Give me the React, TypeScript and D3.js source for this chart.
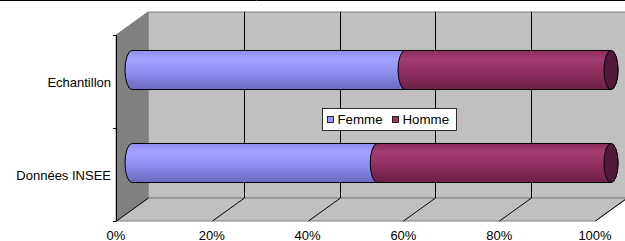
import React, { useEffect, useRef } from "react";
import * as d3 from "d3";

const categories = ["Echantillon", "Données INSEE"];
const femme = [0.57, 0.512];
const homme = [0.43, 0.488];
const seriesNames = ["Femme", "Homme"];
const xTicks = [0, 0.2, 0.4, 0.6, 0.8, 1];

const App = () => {
  const svgRef = useRef<SVGSVGElement>(null);

  useEffect(() => {
    document.body.style.margin = "0";
    const width = 625, height = 241;
    const left = 116, right = 595, top = 35, bottom = 221;
    const dx = 32, dy = -23;

    const svg = d3.select(svgRef.current)
      .attr("width", width)
      .attr("height", height)
      .style("display", "block")
      .style("background", "#fff")
      .style("font-family", "Arial, 'Liberation Sans', sans-serif");
    svg.selectAll("*").remove();

    const x = d3.scaleLinear().domain([0, 1]).range([left, right]);
    const y = d3.scaleBand().domain(categories).range([top, bottom]).paddingInner(0).paddingOuter(0);

    const defs = svg.append("defs");
    const grad = (id, stops) => {
      const g = defs.append("linearGradient").attr("id", id)
        .attr("x1", 0).attr("y1", 0).attr("x2", 0).attr("y2", 1);
      stops.forEach(([o, c]) => g.append("stop").attr("offset", o).attr("stop-color", c));
    };
    grad("gFemme", [["0%", "#8e8eee"], ["22%", "#a2a2ff"], ["55%", "#8f8ff2"], ["100%", "#6a6ac0"]]);
    grad("gHomme", [["0%", "#8a2c5a"], ["22%", "#a43c70"], ["55%", "#8f3060"], ["100%", "#6c1f46"]]);

    // top border line
    svg.append("line").attr("x1", 0).attr("x2", width).attr("y1", 0.5).attr("y2", 0.5)
      .attr("stroke", "#000");

    // back wall
    svg.append("path")
      .attr("d", `M${left + dx},${top + dy}H${width + 5}V${bottom + dy}H${left + dx}Z`)
      .attr("fill", "#c0c0c0").attr("stroke", "#808080");
    // floor
    svg.append("path")
      .attr("d", `M${left},${bottom}L${left + dx},${bottom + dy}H${right + dx}L${right},${bottom}Z`)
      .attr("fill", "#c0c0c0").attr("stroke", "#808080");
    // left wall
    svg.append("path")
      .attr("d", `M${left},${top}L${left + dx},${top + dy}V${bottom + dy}L${left},${bottom}Z`)
      .attr("fill", "#808080").attr("stroke", "#808080");

    // gridlines on wall and floor
    xTicks.forEach(t => {
      const px = Math.round(x(t)) + 0.5;
      if (t > 0 && t < 1) {
        svg.append("line").attr("x1", px + dx).attr("x2", px + dx)
          .attr("y1", top + dy).attr("y2", bottom + dy).attr("stroke", "#000");
      }
      svg.append("line").attr("x1", px + dx).attr("y1", bottom + dy)
        .attr("x2", px).attr("y2", bottom).attr("stroke", "#000");
    });

    // left axis
    svg.append("line").attr("x1", left + 0.5).attr("x2", left + 0.5)
      .attr("y1", top).attr("y2", bottom).attr("stroke", "#000");
    [top, top + y.bandwidth(), bottom].forEach(v => {
      svg.append("line").attr("x1", left - 3).attr("x2", left + 0.5)
        .attr("y1", Math.round(v) + 0.5).attr("y2", Math.round(v) + 0.5).attr("stroke", "#000");
    });

    // category labels
    categories.forEach(c => {
      svg.append("text").attr("x", left - 5).attr("y", y(c) + y.bandwidth() / 2 + 5)
        .attr("text-anchor", "end").attr("font-size", "13px").text(c);
    });

    // x tick labels
    xTicks.forEach(t => {
      svg.append("text").attr("x", x(t)).attr("y", 239.5)
        .attr("text-anchor", "middle").attr("font-size", "13px")
        .text(d3.format(".0%")(t));
    });

    // cylinders at mid depth
    const ox = dx / 2, oy = dy / 2;
    const thick = y.bandwidth() * 0.42;
    const ry = thick / 2;
    const rx = 7;
    categories.forEach((c, i) => {
      const cy = y(c) + y.bandwidth() / 2 + oy;
      const t0 = cy - ry, b0 = cy + ry;
      const segs = [
        { x1: x(0) + ox, x2: x(femme[i]) + ox, fill: "url(#gFemme)" },
        { x1: x(femme[i]) + ox, x2: x(femme[i] + homme[i]) + ox, fill: "url(#gHomme)" },
      ];
      segs.forEach(s => {
        svg.append("path")
          .attr("d", `M${s.x1},${t0}L${s.x2},${t0}A${rx},${ry} 0 0 1 ${s.x2},${b0}L${s.x1},${b0}A${rx},${ry} 0 0 1 ${s.x1},${t0}Z`)
          .attr("fill", s.fill).attr("stroke", "#000").attr("stroke-width", 1);
      });
      const last = segs[segs.length - 1];
      svg.append("ellipse").attr("cx", last.x2).attr("cy", cy).attr("rx", rx).attr("ry", ry)
        .attr("fill", "#521a3a").attr("stroke", "#000");
    });

    // legend
    const lg = svg.append("g").attr("transform", "translate(322.5,108.5)");
    lg.append("rect").attr("width", 134).attr("height", 22)
      .attr("fill", "#fff").attr("stroke", "#000").attr("stroke-width", 0.8);
    const lx = [5, 70];
    const lc = ["#9999ff", "#993366"];
    seriesNames.forEach((n, i) => {
      lg.append("rect").attr("x", lx[i]).attr("y", 8).attr("width", 6).attr("height", 6)
        .attr("fill", lc[i]).attr("stroke", "#000").attr("stroke-width", 0.8);
      lg.append("text").attr("x", lx[i] + 10).attr("y", 15).attr("font-size", "13.3px").text(n);
    });
  }, []);

  return <svg ref={svgRef}></svg>;
};

export default App;
